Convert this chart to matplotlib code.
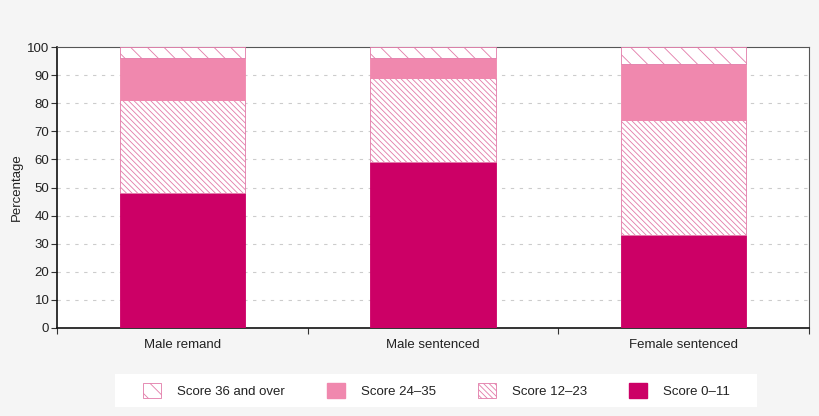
import matplotlib
matplotlib.use("Agg")
import matplotlib.pyplot as plt
from matplotlib.patches import Patch, Rectangle

plt.rcParams['font.family'] = ['Liberation Sans', 'DejaVu Sans']
plt.rcParams['hatch.linewidth'] = 0.6

categories = ["Male remand", "Male sentenced", "Female sentenced"]
score_0_11 = [48, 59, 33]
score_12_23 = [33, 30, 41]
score_24_35 = [15, 7, 20]
score_36_over = [4, 4, 6]
yticks = [0, 10, 20, 30, 40, 50, 60, 70, 80, 90, 100]

dark = '#cc0066'
pink = '#f088ae'
edge = '#e27aa8'
hatch_dense = '\\' * 6
hatch_sparse = '\\' * 2

fig = plt.figure(figsize=(8.2, 4.16), dpi=100, facecolor='#f5f5f5')
ax = fig.add_axes([57/820, 1-328/416, 752/820, 281/416])
ax.set_facecolor('white')

x = list(range(len(categories)))
w = 0.5
ax.bar(x, score_0_11, w, color=dark, edgecolor=dark, linewidth=0.6, zorder=3)
b2 = score_0_11
ax.bar(x, score_12_23, w, bottom=b2, color='white', edgecolor=edge, hatch=hatch_dense, linewidth=0.6, zorder=3)
b3 = [a+b for a, b in zip(score_0_11, score_12_23)]
ax.bar(x, score_24_35, w, bottom=b3, color=pink, edgecolor=pink, linewidth=0.6, zorder=3)
b4 = [a+b for a, b in zip(b3, score_24_35)]
ax.bar(x, score_36_over, w, bottom=b4, color='white', edgecolor=edge, hatch=hatch_sparse, linewidth=0.6, zorder=3)

ax.set_xlim(-0.5, 2.5)
ax.set_ylim(0, 100)
ax.set_yticks(yticks)
ax.tick_params(axis='y', labelsize=9.5, length=4, width=0.8, color='#333333', pad=1.5, labelcolor='#222222')
for y in yticks[1:-1]:
    ax.axhline(y, color='#cccccc', linestyle=(0, (3, 5)), linewidth=0.8, zorder=1)

ax.set_xticks([-0.5, 0.5, 1.5, 2.5])
ax.set_xticklabels([])
ax.tick_params(axis='x', which='major', length=4, width=0.8, color='#333333')
ax.set_xticks(x, minor=True)
ax.set_xticklabels(categories, minor=True)
ax.tick_params(axis='x', which='minor', length=0, labelsize=9.5, pad=8, labelcolor='#222222')

ax.set_ylabel('Percentage', fontsize=9.5, color='#222222')
ax.yaxis.set_label_coords(-34/752, 0.5)

for s in ['left', 'bottom']:
    ax.spines[s].set_linewidth(1.2)
    ax.spines[s].set_color('#111111')
for s in ['top', 'right']:
    ax.spines[s].set_linewidth(0.8)
    ax.spines[s].set_color('#555555')

# legend background box
fig.patches.append(Rectangle((115/820, 1-407/416), (757-115)/820, 33/416,
                             transform=fig.transFigure, facecolor='white', edgecolor='none', zorder=0))

handles = [
    Patch(facecolor='white', edgecolor=edge, hatch=hatch_sparse, linewidth=0.6, label='Score 36 and over'),
    Patch(facecolor=pink, edgecolor=pink, label='Score 24\u201335'),
    Patch(facecolor='white', edgecolor=edge, hatch=hatch_dense, linewidth=0.6, label='Score 12\u201323'),
    Patch(facecolor=dark, edgecolor=dark, label='Score 0\u201311'),
]
leg = fig.legend(handles=handles, loc='center left', bbox_to_anchor=(143/820, 1-390.5/416), ncol=4,
                 frameon=False, fontsize=9.5, handlelength=1.36, handleheight=1.36,
                 columnspacing=3.2, handletextpad=1.2, borderpad=0, borderaxespad=0)
for t in leg.get_texts():
    t.set_color('#222222')

fig.savefig('out.png', dpi=100, facecolor=fig.get_facecolor())
